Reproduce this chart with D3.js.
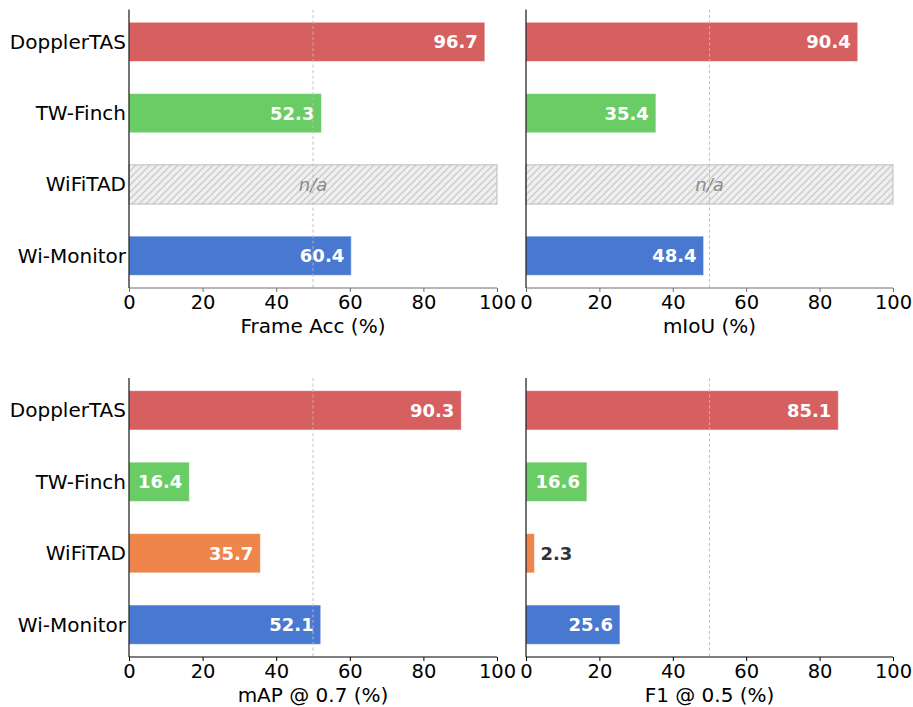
<!DOCTYPE html>
<html>
<head>
<meta charset="utf-8">
<script src="https://cdn.jsdelivr.net/npm/d3@7"></script>
<style>
  html, body { margin: 0; padding: 0; background: #fff; }
  svg { display: block; font-family: "DejaVu Sans", sans-serif; }
</style>
</head>
<body>
<svg id="chart" width="913" height="707"></svg>
<script>
// Methods compared (top to bottom)
const methods = ["DopplerTAS", "TW-Finch", "WiFiTAD", "Wi-Monitor"];
const methodColors = ["#d65f5f", "#6acc64", "#ee854a", "#4878d0"];

// Metric values per method; null = not reported
const frameAcc = [96.7, 52.3, null, 60.4];
const mIoU     = [90.4, 35.4, null, 48.4];
const mAP07    = [90.3, 16.4, 35.7, 52.1];
const f1At05   = [85.1, 16.6, 2.3, 25.6];

const metricTitles = ["Frame Acc (%)", "mIoU (%)", "mAP @ 0.7 (%)", "F1 @ 0.5 (%)"];
const xTicks = [0, 20, 40, 60, 80, 100];
const refLine = 50;

const panels = [
  { values: frameAcc, title: metricTitles[0], col: 0, row: 0 },
  { values: mIoU,     title: metricTitles[1], col: 1, row: 0 },
  { values: mAP07,    title: metricTitles[2], col: 0, row: 1 },
  { values: f1At05,   title: metricTitles[3], col: 1, row: 1 }
];

const svg = d3.select("#chart");

// hatch pattern for missing entries
const defs = svg.append("defs");
const pat = defs.append("pattern")
  .attr("id", "hatch")
  .attr("patternUnits", "userSpaceOnUse")
  .attr("width", 7).attr("height", 7);
pat.append("rect").attr("width", 7).attr("height", 7).attr("fill", "#efefef");
pat.append("path")
  .attr("d", "M-1,1 l2,-2 M0,7 l7,-7 M6,8 l2,-2")
  .attr("stroke", "#c4c4c4").attr("stroke-width", 1.1);

const colX = [[129, 497], [526, 893]];
const rowY = [[9.6, 288], [378, 657]];

panels.forEach(p => {
  const [x0, x1] = colX[p.col];
  const [y0, y1] = rowY[p.row];
  const g = svg.append("g");

  const x = d3.scaleLinear().domain([0, 100]).range([x0, x1]);
  // matplotlib-style barh: bars of height 0.55 at integer positions with 5% margins
  const h = 0.55;
  const lo = -h / 2, hi = methods.length - 1 + h / 2;
  const pad = (hi - lo) * 0.05;
  const y = d3.scaleLinear().domain([lo - pad, hi + pad]).range([y0, y1]);
  const bandH = y(h) - y(0);

  const spineColor = p.row === 0 ? "#6e6e6e" : "#000";

  methods.forEach((m, i) => {
    const v = p.values[i];
    const yc = y(i);
    if (v === null) {
      g.append("rect")
        .attr("x", x(0)).attr("y", yc - bandH / 2)
        .attr("width", x(100) - x(0)).attr("height", bandH)
        .attr("fill", "url(#hatch)")
        .attr("stroke", "#bdbdbd").attr("stroke-width", 1);
      g.append("text")
        .attr("x", x(refLine)).attr("y", yc)
        .attr("dy", "0.35em")
        .attr("text-anchor", "middle")
        .attr("font-size", 18).attr("font-style", "italic")
        .attr("fill", "#8a8a8a")
        .text("n/a");
    } else {
      g.append("rect")
        .attr("x", x(0)).attr("y", yc - bandH / 2)
        .attr("width", x(v) - x(0)).attr("height", bandH)
        .attr("fill", methodColors[i])
        .attr("stroke", "#fff").attr("stroke-opacity", 0.5).attr("stroke-width", 1);
      const inside = v >= 10;
      g.append("text")
        .attr("x", inside ? x(v) - 7 : x(v) + 6)
        .attr("y", yc).attr("dy", "0.36em")
        .attr("text-anchor", inside ? "end" : "start")
        .attr("font-size", 18).attr("font-weight", "bold")
        .attr("fill", inside ? "#fff" : "#333")
        .text(v.toFixed(1));
    }
  });

  // reference line at 50
  g.append("line")
    .attr("x1", x(refLine)).attr("x2", x(refLine))
    .attr("y1", y0).attr("y2", y1)
    .attr("stroke", "#bbb").attr("stroke-width", 0.9)
    .attr("stroke-dasharray", "3,2.5");

  // x axis
  const xa = g.append("g")
    .attr("transform", `translate(0,${y1})`)
    .call(d3.axisBottom(x).tickValues(xTicks).tickSize(4).tickPadding(3).tickFormat(d3.format("d")));
  xa.select(".domain").attr("stroke", spineColor).attr("stroke-width", 1.1).attr("d", `M${x0},0H${x1}`);
  xa.selectAll(".tick line").attr("stroke", spineColor).attr("stroke-width", 1);
  xa.selectAll(".tick text")
    .attr("font-family", "DejaVu Sans").attr("font-size", 19.5).attr("fill", "#000");

  // left spine
  g.append("line")
    .attr("x1", x0).attr("x2", x0).attr("y1", y0).attr("y2", y1)
    .attr("stroke", "#000").attr("stroke-width", 1.1);

  // category labels on the left column only
  if (p.col === 0) {
    methods.forEach((m, i) => {
      g.append("text")
        .attr("x", x0 - 3).attr("y", y(i)).attr("dy", "0.35em")
        .attr("text-anchor", "end")
        .attr("font-size", 20).attr("fill", "#000")
        .text(m);
    });
  }

  // axis title
  g.append("text")
    .attr("x", (x0 + x1) / 2).attr("y", y1 + 38).attr("dy", "0.35em")
    .attr("text-anchor", "middle")
    .attr("font-size", 20).attr("fill", "#000")
    .text(p.title);
});
</script>
</body>
</html>
